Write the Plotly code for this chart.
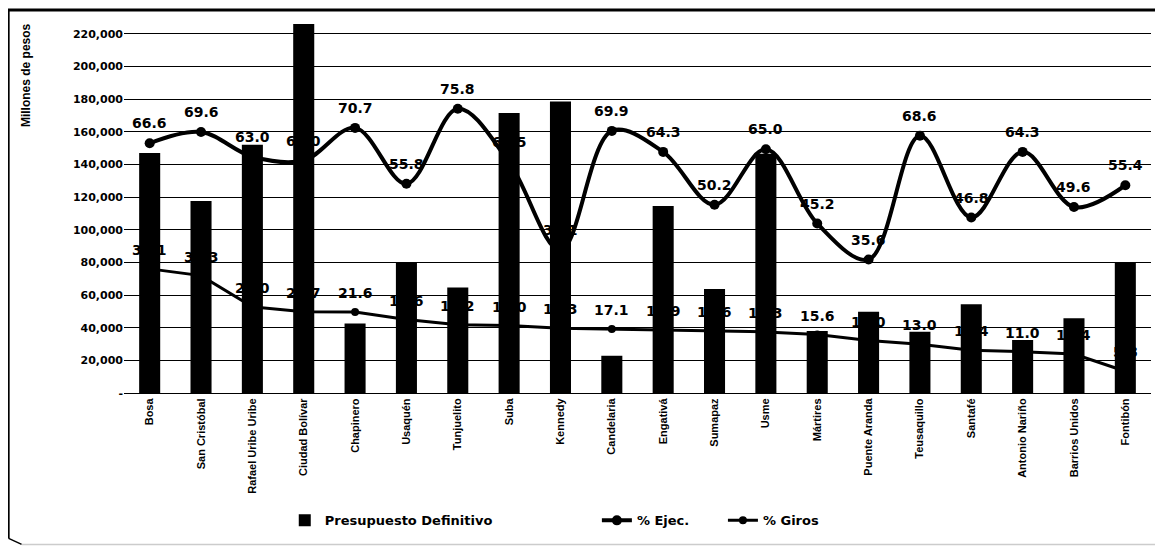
import plotly.graph_objects as go

localidades = ["Bosa", "San Cristóbal", "Rafael Uribe Uribe", "Ciudad Bolívar", "Chapinero",
               "Usaquén", "Tunjuelito", "Suba", "Kennedy", "Candelaria", "Engativá", "Sumapaz",
               "Usme", "Mártires", "Puente Aranda", "Teusaquillo", "Santafé", "Antonio Nariño",
               "Barrios Unidos", "Fontibón"]
presupuesto = [147000, 117500, 152000, 226000, 42600, 79600, 64600, 171500, 178500, 22800,
               114500, 63600, 146500, 38000, 49800, 37500, 54300, 32400, 45700, 79600]
pct_ejec = [66.6, 69.6, 63.0, 62.0, 70.7, 55.8, 75.8, 61.5, 38.1, 69.9,
            64.3, 50.2, 65.0, 45.2, 35.6, 68.6, 46.8, 64.3, 49.6, 55.4]
pct_giros = [33.1, 31.3, 23.0, 21.7, 21.6, 19.6, 18.2, 18.0, 17.3, 17.1,
             16.9, 16.6, 16.3, 15.6, 14.0, 13.0, 11.4, 11.0, 10.4, 5.8]
y_ticks = [0, 20000, 40000, 60000, 80000, 100000, 120000, 140000, 160000, 180000, 200000, 220000]

# page body has an 8px margin, so the figure is drawn 8px smaller and offset
OFF = 8
W, H = 1163 - OFF, 547 - OFF
L = 124.3 - OFF
R = W - (1150.9 - OFF)
T = 17.6 - OFF
B = H - (392.6 - OFF)
pw, ph = W - L - R, H - T - B

def px(x):
    return (x - OFF - L) / pw

def py(y):
    return (H - B - (y - OFF)) / ph

BOLD = "DejaVu Sans"
NARROW = "Liberation Sans Narrow, Arial Narrow, sans-serif"

fig = go.Figure()
fig.add_trace(go.Bar(x=localidades, y=presupuesto, name="Presupuesto Definitivo",
                     marker=dict(color="black", line=dict(width=0)), yaxis="y",
                     legend="legend"))
fig.add_trace(go.Scatter(x=localidades, y=pct_ejec, name="% Ejec.", yaxis="y2",
                         mode="lines+markers",
                         line=dict(color="black", width=4, shape="spline", smoothing=1.0),
                         marker=dict(color="black", size=10), legend="legend2"))
fig.add_trace(go.Scatter(x=localidades, y=pct_giros, name="% Giros", yaxis="y2",
                         mode="lines+markers",
                         line=dict(color="black", width=3),
                         marker=dict(color="black", size=8), legend="legend3"))

annotations = []
for cat, v in zip(localidades, pct_ejec):
    annotations.append(dict(x=cat, y=v, xref="x", yref="y2", text=f"<b>{v:.1f}</b>",
                            showarrow=False, yshift=20,
                            font=dict(family=BOLD, size=14, color="black")))
for cat, v in zip(localidades, pct_giros):
    annotations.append(dict(x=cat, y=v, xref="x", yref="y2", text=f"<b>{v:.1f}</b>",
                            showarrow=False, yshift=19,
                            font=dict(family=BOLD, size=14, color="black")))
annotations.append(dict(x=px(27), y=py(75), xref="paper", yref="paper",
                        xanchor="center", yanchor="middle",
                        text="<b>Millones de pesos</b>", textangle=-90, showarrow=False,
                        font=dict(family=NARROW, size=12, color="black")))
annotations.append(dict(x=px(1163), y=py(9), xref="paper", yref="paper", xanchor="right",
                        yanchor="bottom", text="<b>Millones de pesos</b>", showarrow=False,
                        font=dict(family=BOLD, size=11, color="#aaaaaa")))

shapes = [
    dict(type="line", xref="paper", yref="paper", x0=px(8), x1=px(1163), y0=py(9.5), y1=py(9.5),
         line=dict(color="black", width=3)),
    dict(type="line", xref="paper", yref="paper", x0=px(9), x1=px(9), y0=py(9), y1=py(538),
         line=dict(color="black", width=2)),
    dict(type="line", xref="paper", yref="paper", x0=px(9), x1=px(22), y0=py(538), y1=py(544),
         line=dict(color="black", width=1.5)),
    dict(type="line", xref="paper", yref="paper", x0=px(22), x1=px(1163), y0=py(544), y1=py(544),
         line=dict(color="#cccccc", width=1.5)),
]

legend_font = dict(family=BOLD, size=13, color="black", weight="bold")

def make_legend(xpix):
    return dict(orientation="h", x=px(xpix), xanchor="left", y=py(520), yanchor="middle",
                font=legend_font, bgcolor="rgba(0,0,0,0)", borderwidth=0)

fig.update_layout(
    width=W, height=H,
    margin=dict(l=L, r=R, t=T, b=B, autoexpand=False),
    paper_bgcolor="white", plot_bgcolor="white",
    bargap=0.59,
    showlegend=True,
    legend=make_legend(285),
    legend2=make_legend(597),
    legend3=make_legend(723),
    xaxis=dict(type="category", tickangle=-90, showgrid=False, showline=True,
               linecolor="black", linewidth=1, ticks="",
               tickfont=dict(family=NARROW, size=11, color="black", weight="bold"),
               range=[-0.5, len(localidades) - 0.5]),
    yaxis=dict(range=[0, 229600], tickvals=y_ticks,
               ticktext=["<b>-</b>"] + [f"<b>{v:,}</b>" for v in y_ticks[1:]],
               tickfont=dict(family=BOLD, size=11, color="black"),
               showgrid=True, gridcolor="black", gridwidth=1, zeroline=False,
               showline=False, ticks="", ticklen=0),
    yaxis2=dict(range=[0, 100], overlaying="y", side="right", visible=False,
                showgrid=False),
    annotations=annotations,
    shapes=shapes,
)

fig.write_html("out.html")
